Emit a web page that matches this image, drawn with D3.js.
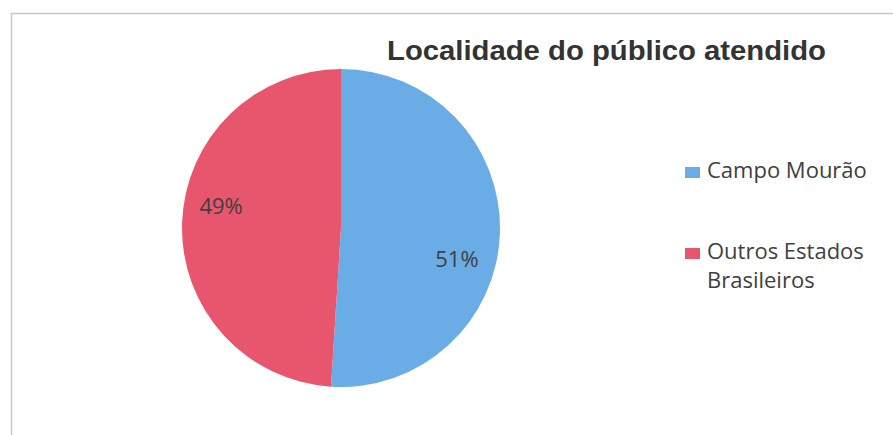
<!DOCTYPE html>
<html>
<head>
<meta charset="utf-8">
<script src="https://cdn.jsdelivr.net/npm/d3@7"></script>
<style>
  body { margin: 0; background: #fff; }
  svg { display: block; }
</style>
</head>
<body>
<div id="chart"></div>
<script>
// dados do gráfico
const categorias = ['Campo Mourão', 'Outros Estados Brasileiros']
const valores = [51, 49]
const cores = ['#6aade6', '#e8566e']
const legendaLinhas = [['Campo Mourão'], ['Outros Estados', 'Brasileiros']]
const titulo = 'Localidade do público atendido'

const width = 893
const height = 435
const cx = 341
const cy = 228
const r = 159

const svg = d3.select('#chart')
  .append('svg')
  .attr('width', width)
  .attr('height', height)

// moldura
svg.append('path')
  .attr('d', `M 11.5 ${height} L 11.5 13.5 L ${width} 13.5`)
  .attr('fill', 'none')
  .attr('stroke', '#c8c8c8')
  .attr('stroke-width', 1.5)

svg.append('text')
  .attr('x', 387)
  .attr('y', 60)
  .attr('textLength', 439)
  .attr('lengthAdjust', 'spacingAndGlyphs')
  .attr('font-family', 'Liberation Sans, Arial, sans-serif')
  .attr('font-weight', 'bold')
  .attr('font-size', 27)
  .attr('fill', '#333')
  .text(titulo)

const pie = d3.pie().sort(null).value(d => d)
const arcs = pie(valores)

const arc = d3.arc().innerRadius(0).outerRadius(r)
// rótulo um pouco girado, como no Excel
const labelArc = d3.arc().innerRadius(r * 0.76).outerRadius(r * 0.76)

const g = svg.append('g').attr('transform', `translate(${cx},${cy})`)

g.selectAll('path')
  .data(arcs)
  .enter()
  .append('path')
  .attr('d', arc)
  .attr('fill', (d, i) => cores[i])

g.selectAll('text')
  .data(arcs)
  .enter()
  .append('text')
  .attr('transform', d => {
    const c = labelArc.centroid({ startAngle: d.startAngle + 0.19, endAngle: d.endAngle + 0.19 })
    return `translate(${c[0] - 2},${c[1] + 5})`
  })
  .attr('text-anchor', 'middle')
  .attr('dy', '0.35em')
  .attr('font-family', 'Open Sans, sans-serif')
  .attr('font-size', 22)
  .attr('fill', '#404040')
  .text(d => d.data + '%')

// legenda
const legY = d3.scalePoint().domain(categorias).range([172, 253])

const leg = svg.selectAll('.leg')
  .data(categorias)
  .enter()
  .append('g')
  .attr('class', 'leg')
  .attr('transform', d => `translate(685,${legY(d)})`)

leg.append('rect')
  .attr('x', 0)
  .attr('y', -5)
  .attr('width', 15)
  .attr('height', 11)
  .attr('fill', (d, i) => cores[i])

leg.append('text')
  .attr('x', 22)
  .attr('y', 0)
  .attr('font-family', 'Open Sans, sans-serif')
  .attr('font-size', 22)
  .attr('fill', '#404040')
  .selectAll('tspan')
  .data((d, i) => legendaLinhas[i])
  .enter()
  .append('tspan')
  .attr('x', 22)
  .attr('dy', (d, i) => i === 0 ? '0.25em' : 29)
  .text(d => d)
</script>
</body>
</html>
